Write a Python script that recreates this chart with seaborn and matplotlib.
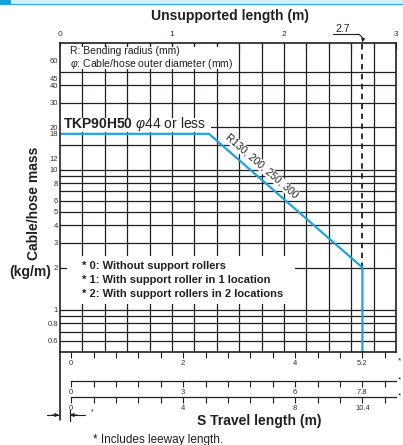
import numpy as np
import pandas as pd
import matplotlib
matplotlib.use("Agg")
import matplotlib.pyplot as plt
import seaborn as sns
from matplotlib.patches import Rectangle
from matplotlib.lines import Line2D
from matplotlib.ticker import FixedLocator, FixedFormatter, NullLocator

# ---------------- data ----------------
unsupported_length = [0.0, 1.33, 2.7, 2.7]
cable_mass = [18, 18, 2, 0.5]
limit_length = 2.7
limit_mass = 2
leeway = 0.1

y_tick_values = [60, 45, 40, 30, 20, 18, 12, 10, 8, 6, 5, 4, 3, 2, 1, 0.8, 0.6]
y_tick_labels = ["60", "45", "40", "30", "20", "18", "12", "10", "8", "6", "5", "4", "3", "2", "1", "0.8", "0.6"]
y_grid_values = [50, 40, 30, 20, 15, 10, 9, 8, 7, 6, 5, 4, 3, 2, 1, 0.9, 0.8, 0.7, 0.6]
x_grid_values = [0.2, 0.4, 0.6, 0.8, 1.0, 1.2, 1.4, 1.6, 1.8, 2.0, 2.2, 2.4, 2.6, 2.8]
top_tick_values = [0, 1, 2, 3]
top_tick_labels = ["0", "1", "2", "3"]

s_factors = [2, 3, 4]          # travel length scale for 0 / 1 / 2 support rollers
s_tick_steps = [0.4, 0.6, 0.8]
s_labels = [{0: "0", 2: "2", 4: "4", 5.2: "5.2"},
            {0: "0", 3: "3", 6: "6", 7.8: "7.8"},
            {0: "0", 4: "4", 8: "8", 10.4: "10.4"}]

notes = ["* 0: Without support rollers",
         "* 1: With support roller in 1 location",
         "* 2: With support rollers in 2 locations"]

# ---------------- style ----------------
sns.set_theme(style="white")
plt.rcParams["font.family"] = ["Liberation Sans", "DejaVu Sans"]
plt.rcParams["mathtext.fontset"] = "custom"
plt.rcParams["mathtext.rm"] = "Liberation Sans"
plt.rcParams["mathtext.it"] = "Liberation Sans:italic"
plt.rcParams["mathtext.bf"] = "Liberation Sans:bold"

ink = "#231f20"
blue = "#1ea5dc"
W, H = 403, 445

fig = plt.figure(figsize=(W / 100, H / 100), dpi=100)
ax = fig.add_axes([60 / W, (H - 352) / H, 336 / W, 309 / H])
ax.set_facecolor("white")
ax.set_yscale("log")
ax.set_xlim(0, 3)
ax.set_ylim(0.5, 80)

# grid
for v in y_grid_values:
    ax.axhline(v, color=ink, lw=0.9, zorder=1)
for v in x_grid_values:
    ax.axvline(v, color=ink, lw=0.9, zorder=1)

# white masks behind annotations
ax.add_patch(Rectangle((0.004, 52), 1.58, 22.6, fc="white", ec="none", zorder=1.5))
ax.add_patch(Rectangle((0.004, 18.6), 1.34, 4.7, fc="white", ec="none", zorder=1.5))
ax.add_patch(Rectangle((0.06, 1.1), 2.04, 1.32, fc="white", ec="none", zorder=1.5))

# limit dashed line
ax.plot([limit_length, limit_length], [limit_mass, 80], color=ink, lw=1.3,
        ls=(0, (3, 2.5)), zorder=2)

# data line
df = pd.DataFrame({"L": unsupported_length, "M": cable_mass})
sns.lineplot(data=df, x="L", y="M", sort=False, estimator=None, color=blue,
             lw=1.6, ax=ax, zorder=4)
ax.set_xlabel("")
ax.set_ylabel("")

# y axis
ax.yaxis.set_major_locator(FixedLocator(y_tick_values))
ax.yaxis.set_major_formatter(FixedFormatter(y_tick_labels))
ax.yaxis.set_minor_locator(NullLocator())
ax.tick_params(axis="y", which="both", length=0, pad=1.5, labelsize=5.5, labelcolor="#333333")

# top x axis
ax.xaxis.tick_top()
ax.set_xticks(top_tick_values, top_tick_labels)
ax.xaxis.set_minor_locator(FixedLocator(x_grid_values))
ax.tick_params(axis="x", which="both", direction="in", length=4, width=0.8, color=ink,
               top=True, bottom=False, labeltop=True, labelbottom=False,
               labelsize=6, pad=3.5, labelcolor="#333333")

for sp in ax.spines.values():
    sp.set_color(ink)
    sp.set_linewidth(1.2)
    sp.set_zorder(5)

# left spine extension
ax.add_line(Line2D([0, 0], [0, -0.22], transform=ax.transAxes, color=ink, lw=1.2, clip_on=False))

# bottom travel-length axes
locs = ["bottom", -0.094, -0.1447]
for f, step, labs, loc in zip(s_factors, s_tick_steps, s_labels, locs):
    sec = ax.secondary_xaxis(loc, functions=(lambda x, f=f: f * (np.asarray(x) - leeway),
                                              lambda s, f=f: np.asarray(s) / f + leeway))
    n = int(round((3 - leeway) * f / step)) + 1
    ticks = [round(i * step, 2) for i in range(n)]
    labels = [labs.get(t, "") for t in ticks]
    sec.set_xticks(ticks, labels)
    sec.tick_params(axis="x", direction="out", length=4, width=0.8, color=ink,
                    labelsize=5.5, pad=2, labelcolor="#333333")
    if loc == "bottom":
        sec.spines["bottom"].set_visible(False)
    else:
        sec.spines["bottom"].set_bounds(0, (3 - leeway) * f)
        sec.spines["bottom"].set_linewidth(0.9)
        sec.spines["bottom"].set_color(ink)

# ---------------- texts ----------------
ax.text(0.03, 0.974, "R: Bending radius (mm)", transform=ax.transAxes, fontsize=7.5,
        color=ink, va="center", ha="left", zorder=3)
ax.text(0.03, 0.932, r"$\varphi$: Cable/hose outer diameter (mm)", transform=ax.transAxes,
        fontsize=7.5, color=ink, va="center", ha="left", zorder=3)

ax.text(0.009, 0.738, r"$\mathbf{TKP90H50}$ $\varphi$44 or less", transform=ax.transAxes,
        fontsize=10, color=ink, va="center", ha="left", zorder=3)

ax.text(0.600, 0.602, "R130, 200, 250, 300", transform=ax.transAxes, fontsize=7.3,
        color=ink, rotation=-41, va="center", ha="center", rotation_mode="anchor", zorder=3,
        bbox=dict(boxstyle="square,pad=0.05", fc="white", ec="none"))

for i, t in enumerate(notes):
    ax.text(0.0655, 0.278 - i * 0.0455, t, transform=ax.transAxes, fontsize=8,
            fontweight="bold", color=ink, va="center", ha="left", zorder=3)

# 2.7 annotation
tr = ax.get_xaxis_transform()
ax.text(2.52, 1.044, "2.7", transform=tr, fontsize=7.5, color=ink, ha="center", va="center")
ax.add_line(Line2D([2.44, 2.66], [1.029, 1.029], transform=tr, color=ink, lw=0.8, clip_on=False))
ax.annotate("", xy=(2.7, 1.002), xycoords=tr, xytext=(2.66, 1.029), textcoords=tr,
            arrowprops=dict(arrowstyle="-|>", color=ink, lw=0.8, mutation_scale=5,
                            connectionstyle="arc3,rad=-0.4", shrinkA=0, shrinkB=0))

# figure-level labels
def fx(x):
    return x / W

def fy(y):
    return 1 - y / H

fig.text(fx(230), fy(16), "Unsupported length (m)", fontsize=10, fontweight="bold",
         color=ink, ha="center", va="center")
fig.text(fx(259), fy(421), "S Travel length (m)", fontsize=10, fontweight="bold",
         color=ink, ha="center", va="center")
fig.text(fx(34), fy(203), "Cable/hose mass", fontsize=10, fontweight="bold",
         color=ink, ha="center", va="center", rotation=90)
fig.text(fx(30), fy(272), "(kg/m)", fontsize=10, fontweight="bold",
         color=ink, ha="center", va="center")
fig.text(fx(93), fy(440), "* Includes leeway length.", fontsize=8.5,
         color=ink, ha="left", va="center")
for yy in [361, 380, 396]:
    fig.text(fx(398), fy(yy), "*", fontsize=6, color=ink, ha="left", va="center")

# leeway marker
fig.add_artist(Line2D([fx(70), fx(70)], [fy(410), fy(421)], transform=fig.transFigure, color=ink, lw=0.9))
fig.add_artist(Line2D([fx(47), fx(59)], [fy(415), fy(415)], transform=fig.transFigure, color=ink, lw=0.8))
fig.add_artist(Line2D([fx(70), fx(85)], [fy(415), fy(415)], transform=fig.transFigure, color=ink, lw=0.8))
ax.annotate("", xy=(59, H - 415), xycoords="figure pixels", xytext=(52, H - 415),
            textcoords="figure pixels",
            arrowprops=dict(arrowstyle="-|>", color=ink, lw=0.8, mutation_scale=5, shrinkA=0, shrinkB=0))
ax.annotate("", xy=(70, H - 415), xycoords="figure pixels", xytext=(77, H - 415),
            textcoords="figure pixels",
            arrowprops=dict(arrowstyle="-|>", color=ink, lw=0.8, mutation_scale=5, shrinkA=0, shrinkB=0))
fig.text(fx(91), fy(412), "*", fontsize=5, color=ink, ha="left", va="center")

# header band
fig.add_artist(Rectangle((0, fy(4)), 1, 4 / H, transform=fig.transFigure, fc="#d6edf9", ec="none"))
fig.add_artist(Line2D([0, 1], [fy(3.6), fy(3.6)], transform=fig.transFigure, color="#29a9e1", lw=0.8))
fig.add_artist(Rectangle((0, fy(4.5)), 11 / W, 4.5 / H, transform=fig.transFigure, fc="#1a9fd9", ec="none"))

fig.savefig("out.png", dpi=100)
